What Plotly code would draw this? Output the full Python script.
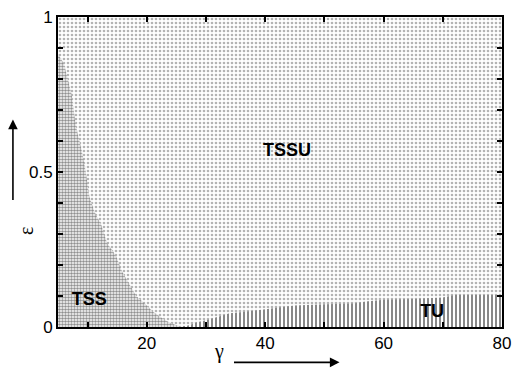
import plotly.graph_objects as go

# Data
x_range = [5, 80]
y_range = [0, 1]

# Boundary of the TSS region (epsilon vs gamma)
tss_gamma = [5, 6, 7.3, 8, 9, 9.7, 10.3, 11.2, 12.3, 13.3, 14.8, 15.8, 17, 18.2, 19.7, 21, 22.5, 24, 26]
tss_eps = [0.88, 0.85, 0.75, 0.65, 0.57, 0.5, 0.42, 0.37, 0.33, 0.27, 0.23, 0.18, 0.14, 0.10, 0.075, 0.05, 0.03, 0.012, 0.0]

# Boundary of the TU region
tu_gamma = [25.5, 27, 28.5, 30, 31.5, 34, 37, 41, 45, 50, 55, 57, 60, 65, 70, 72, 80]
tu_eps = [0.0, 0.005, 0.015, 0.022, 0.03, 0.044, 0.05, 0.06, 0.069, 0.073, 0.076, 0.082, 0.088, 0.09, 0.095, 0.103, 0.103]

x_ticks = [10, 20, 30, 40, 50, 60, 70, 80]
x_ticktext = ["", "20", "", "40", "", "60", "", "80"]
y_ticks = [0, 0.1, 0.2, 0.3, 0.4, 0.5, 0.6, 0.7, 0.8, 0.9, 1.0]
y_ticktext = ["0", "", "", "", "", "0.5", "", "", "", "", "1"]

region_labels = ["TSSU", "TSS", "TU"]
label_gamma = [43.7, 10.3, 68.2]
label_eps = [0.565, 0.085, 0.047]

fig = go.Figure()

# TSSU background region
fig.add_trace(go.Scatter(
    x=[x_range[0], x_range[1], x_range[1], x_range[0], x_range[0]],
    y=[y_range[0], y_range[0], y_range[1], y_range[1], y_range[0]],
    fill="toself", mode="none", hoverinfo="skip", showlegend=False,
    fillcolor="rgba(0,0,0,0)",
    fillpattern=dict(shape=".", size=4, solidity=0.35, fgcolor="#6a6a6a", bgcolor="white"),
))

# TSS region
fig.add_trace(go.Scatter(
    x=tss_gamma + [x_range[0], tss_gamma[0]],
    y=tss_eps + [0, tss_eps[0]],
    fill="toself", mode="none", hoverinfo="skip", showlegend=False,
    fillcolor="rgba(0,0,0,0)",
    fillpattern=dict(shape=".", size=3, solidity=0.55, fgcolor="#222", bgcolor="white"),
))

# TU region
fig.add_trace(go.Scatter(
    x=tu_gamma + [x_range[1], tu_gamma[0]],
    y=tu_eps + [0, tu_eps[0]],
    fill="toself", mode="none", hoverinfo="skip", showlegend=False,
    fillcolor="rgba(0,0,0,0)",
    fillpattern=dict(shape="|", size=4, solidity=0.5, fgcolor="#111", bgcolor="white"),
))

fig.add_trace(go.Scatter(
    x=label_gamma, y=label_eps, text=region_labels, mode="text",
    textfont=dict(family="Liberation Sans, Arial", size=18, color="black", weight="bold"),
    hoverinfo="skip", showlegend=False,
))

axis_common = dict(
    showline=True, linewidth=2, linecolor="black", mirror="ticks",
    ticks="inside", ticklen=5, tickwidth=2, tickcolor="black",
    showgrid=False, zeroline=False,
    tickfont=dict(family="Liberation Sans, Arial", size=17, color="black"),
)

fig.update_xaxes(range=x_range, tickvals=x_ticks, ticktext=x_ticktext, **axis_common)
fig.update_yaxes(range=y_range, tickvals=y_ticks, ticktext=y_ticktext, **axis_common)

fig.add_annotation(xref="paper", yref="paper", x=0.634, y=-0.114, ax=-107, ay=0,
                   showarrow=True, arrowhead=2, arrowsize=1.2, arrowwidth=1.6, arrowcolor="black", text="")
fig.add_annotation(xref="paper", yref="paper", x=-0.1015, y=0.669, ax=0, ay=82,
                   showarrow=True, arrowhead=2, arrowsize=1.2, arrowwidth=1.6, arrowcolor="black", text="")
fig.add_annotation(xref="paper", yref="paper", x=0.362, y=-0.123, text="γ", showarrow=False,
                   font=dict(family="Liberation Serif, Times New Roman", size=20, color="black"))
fig.add_annotation(xref="paper", yref="paper", x=-0.1015, y=0.29, text="ε", showarrow=False, textangle=-90,
                   font=dict(family="Liberation Serif, Times New Roman", size=20, color="black"))

fig.update_layout(
    width=519, height=382,
    margin=dict(l=58, r=8, t=10, b=55),
    plot_bgcolor="white", paper_bgcolor="white",
)

fig.write_html("out.html")
